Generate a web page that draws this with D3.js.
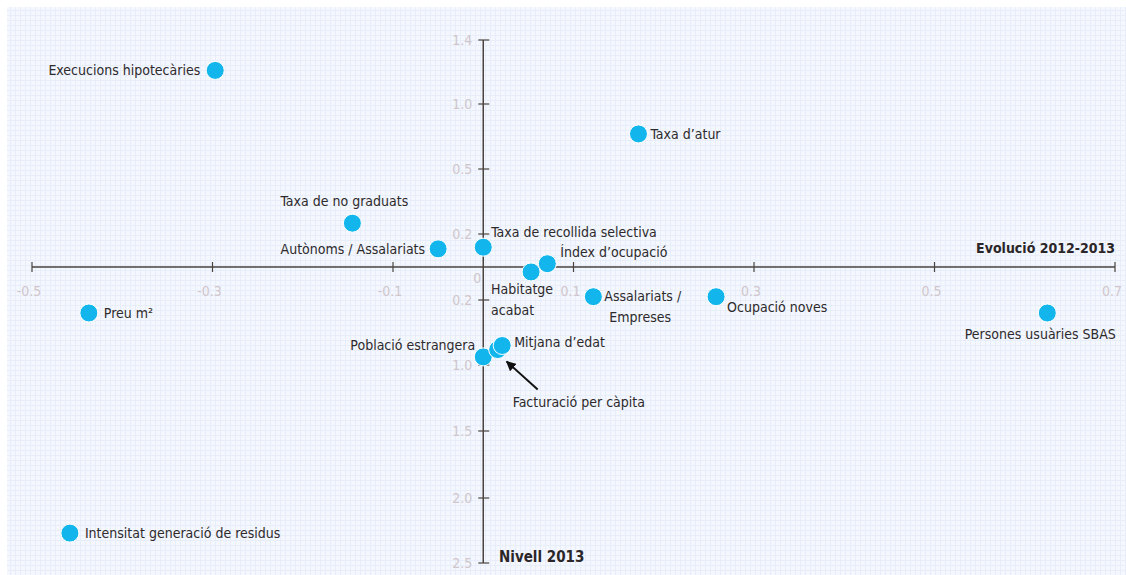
<!DOCTYPE html>
<html>
  <head>
    <meta charset="utf-8">
    <title>Evolució 2012-2013 / Nivell 2013</title>
    <script src="https://d3js.org/d3.v7.min.js"></script>
    <style>
      body { margin: 0; background: #fff; }
      text { font-family: "Liberation Sans Narrow", "DejaVu Sans Condensed", "Liberation Sans", sans-serif; }
    </style>
  </head>
  <body>
    <div id="vis"></div>
    <script>
      const width = 1126;
      const height = 575;

      // indicator names, x = evolució 2012-2013, y = nivell 2013
      const names = ["Execucions hipotecàries", "Taxa d’atur", "Taxa de no graduats", "Autònoms / Assalariats",
                     "Taxa de recollida selectiva", "Índex d’ocupació", "Habitatge acabat", "Assalariats / Empreses",
                     "Ocupació noves", "Persones usuàries SBAS", "Preu m²", "Població estrangera",
                     "Facturació per càpita", "Mitjana d’edat", "Intensitat generació de residus"];
      const evolucio = [-0.297, 0.172, -0.145, -0.05, 0.0, 0.071, 0.053, 0.122, 0.258, 0.625, -0.437, 0.0, 0.016, 0.021, -0.458];
      const nivell = [1.21, 0.77, 0.25, 0.11, 0.12, 0.02, -0.03, -0.18, -0.18, -0.36, -0.36, -0.90, -0.81, -0.76, -2.27];

      const xTicks = [-0.5, -0.3, -0.1, 0.1, 0.3, 0.5, 0.7];
      const xTickLabels = ["-0.5", "-0.3", "-0.1", "0.1", "0.3", "0.5", "0.7"];
      // the printed y axis is not linear: the scale is built from its tick marks
      const yTicks = [1.4, 1.0, 0.5, 0.2, -0.2, -1.0, -1.5, -2.0, -2.5];
      const yTickLabels = ["1.4", "1.0", "0.5", "0.2", "0.2", "1.0", "1.5", "2.0", "2.5"];

      const svg = d3.select("#vis").append("svg")
        .attr("width", width)
        .attr("height", height);

      // light gridded background
      const defs = svg.append("defs");
      const pat = defs.append("pattern")
        .attr("id", "grid")
        .attr("width", 5)
        .attr("height", 5)
        .attr("patternUnits", "userSpaceOnUse");
      pat.append("rect").attr("width", 5).attr("height", 5).attr("fill", "#f4f7fd");
      pat.append("path").attr("d", "M0,0.5H5M0.5,0V5").attr("stroke", "#e7eef9").attr("stroke-width", 1);

      svg.append("rect")
        .attr("x", 7).attr("y", 7)
        .attr("width", width - 7).attr("height", height - 7)
        .attr("fill", "url(#grid)");

      const x = d3.scaleLinear().domain([-0.5, 0.7]).range([32, 1115]);
      const y = d3.scaleLinear()
        .domain([-2.5, -2.0, -1.5, -1.0, -0.2, 0, 0.2, 0.5, 1.0, 1.4])
        .range([563, 498, 431, 365, 300, 267, 234, 169, 104, 40]);

      const axisColor = "#4a4340";
      const tickColor = "#d0c6cc";

      // x axis
      const xg = svg.append("g");
      xg.append("line")
        .attr("x1", x(-0.5)).attr("x2", x(0.7))
        .attr("y1", y(0)).attr("y2", y(0))
        .attr("stroke", axisColor).attr("stroke-width", 1.5);
      xg.selectAll(".xt").data(xTicks).enter().append("line")
        .attr("x1", d => x(d)).attr("x2", d => x(d))
        .attr("y1", y(0) - 5).attr("y2", y(0) + 5)
        .attr("stroke", axisColor).attr("stroke-width", 1.2);
      xg.selectAll(".xl").data(xTicks).enter().append("text")
        .attr("x", d => x(d) - 3).attr("y", y(0) + 29)
        .attr("text-anchor", "middle")
        .attr("font-size", 14)
        .attr("fill", tickColor)
        .text((d, i) => xTickLabels[i]);
      xg.append("text")
        .attr("x", x(0) - 6).attr("y", y(0) + 16)
        .attr("text-anchor", "middle")
        .attr("font-size", 14)
        .attr("fill", tickColor)
        .text("0");

      // y axis
      const yg = svg.append("g");
      yg.append("line")
        .attr("x1", x(0)).attr("x2", x(0))
        .attr("y1", y(1.4)).attr("y2", y(-2.5))
        .attr("stroke", axisColor).attr("stroke-width", 1.5);
      yg.selectAll(".yt").data(yTicks).enter().append("line")
        .attr("x1", x(0) - 5).attr("x2", x(0) + 6)
        .attr("y1", d => y(d)).attr("y2", d => y(d))
        .attr("stroke", axisColor).attr("stroke-width", 1.2);
      yg.selectAll(".yl").data(yTicks).enter().append("text")
        .attr("x", x(0) - 11).attr("y", d => y(d) + 5)
        .attr("text-anchor", "end")
        .attr("font-size", 14)
        .attr("fill", tickColor)
        .text((d, i) => yTickLabels[i]);

      // axis titles
      svg.append("text")
        .attr("x", 1115).attr("y", 253)
        .attr("text-anchor", "end")
        .attr("font-size", 14)
        .attr("font-weight", "bold")
        .attr("fill", "#2b2628")
        .text("Evolució 2012-2013");
      svg.append("text")
        .attr("x", 499).attr("y", 562)
        .attr("text-anchor", "start")
        .attr("font-size", 15)
        .attr("font-weight", "bold")
        .attr("fill", "#2b2628")
        .text("Nivell 2013");

      // label placement per point: [dx, dy, anchor]
      const labelPos = [
        [-15, 5, "end"], [12, 5, "start"], [-8, -17, "middle"], [-13, 5, "end"],
        [8, -10, "start"], [13, -7, "start"], [-40, 22, "start"], [11, 4, "start"],
        [11, 15, "start"], [-7, 26, "middle"], [15, 5, "start"], [-8, -7, "end"],
        [15, 57, "start"], [12, 1, "start"], [15, 5, "start"]
      ];

      const points = names.map((n, i) => ({ name: n, x: evolucio[i], y: nivell[i], pos: labelPos[i] }));

      // arrow for Facturació per càpita
      defs.append("marker")
        .attr("id", "arrow")
        .attr("viewBox", "0 0 10 10")
        .attr("refX", 9).attr("refY", 5)
        .attr("markerWidth", 5).attr("markerHeight", 5)
        .attr("orient", "auto")
        .append("path").attr("d", "M0,0L10,5L0,10z").attr("fill", "#111");
      const fact = points[12];
      svg.append("line")
        .attr("x1", x(fact.x) + 40).attr("y1", y(fact.y) + 40)
        .attr("x2", x(fact.x) + 9).attr("y2", y(fact.y) + 12)
        .attr("stroke", "#111").attr("stroke-width", 2)
        .attr("marker-end", "url(#arrow)");

      svg.append("g").selectAll("circle")
        .data(points).enter().append("circle")
        .attr("cx", d => x(d.x))
        .attr("cy", d => y(d.y))
        .attr("r", 9)
        .attr("fill", "#12b6ec")
        .attr("stroke", "#fff")
        .attr("stroke-width", 1);

      const labels = svg.append("g").selectAll("text")
        .data(points).enter().append("text")
        .attr("x", d => x(d.x) + d.pos[0])
        .attr("y", d => y(d.y) + d.pos[1])
        .attr("text-anchor", d => d.pos[2])
        .attr("font-size", 14)
        .attr("fill", "#2e2a2c");

      // two-line labels
      labels.each(function(d) {
        const t = d3.select(this);
        let lines = [d.name];
        if (d.name === "Habitatge acabat") lines = ["Habitatge", "acabat"];
        if (d.name === "Assalariats / Empreses") lines = ["Assalariats /", "Empreses"];
        lines.forEach((l, k) => {
          t.append("tspan")
            .attr("x", x(d.x) + d.pos[0] + (k > 0 && d.name === "Assalariats / Empreses" ? 5 : 0))
            .attr("dy", k === 0 ? 0 : 21)
            .text(l);
        });
      });
    </script>
  </body>
</html>
